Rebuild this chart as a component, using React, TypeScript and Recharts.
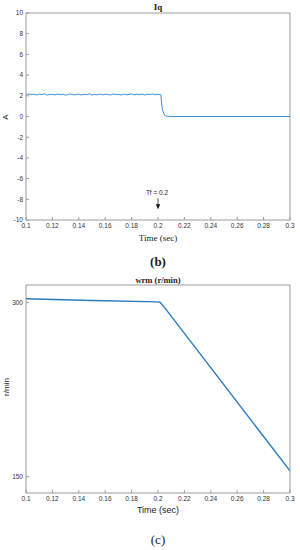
import { LineChart, Line, XAxis, YAxis, ReferenceDot } from 'recharts';

const timeTicks = [0.1, 0.12, 0.14, 0.16, 0.18, 0.2, 0.22, 0.24, 0.26, 0.28, 0.3];
const iqTicks = [-10, -8, -6, -4, -2, 0, 2, 4, 6, 8, 10];
const wrmTicks = [150, 300];

const iqTime = [
  0.1, 0.102, 0.104, 0.106, 0.108, 0.11, 0.112, 0.114, 0.116, 0.118,
  0.12, 0.122, 0.124, 0.126, 0.128, 0.13, 0.132, 0.134, 0.136, 0.138,
  0.14, 0.142, 0.144, 0.146, 0.148, 0.15, 0.152, 0.154, 0.156, 0.158,
  0.16, 0.162, 0.164, 0.166, 0.168, 0.17, 0.172, 0.174, 0.176, 0.178,
  0.18, 0.182, 0.184, 0.186, 0.188, 0.19, 0.192, 0.194, 0.196, 0.198,
  0.2, 0.2022, 0.2028, 0.2035, 0.2045, 0.2055, 0.207, 0.21, 0.3,
];
const iqValue = [
  2.12, 2.18, 2.1, 2.15, 2.08, 2.16, 2.11, 2.19, 2.07, 2.14,
  2.12, 2.09, 2.17, 2.1, 2.15, 2.06, 2.13, 2.18, 2.09, 2.12,
  2.16, 2.08, 2.14, 2.11, 2.19, 2.07, 2.13, 2.1, 2.17, 2.09,
  2.15, 2.12, 2.08, 2.18, 2.11, 2.14, 2.07, 2.16, 2.1, 2.13,
  2.19, 2.09, 2.15, 2.11, 2.17, 2.08, 2.14, 2.12, 2.18, 2.1,
  2.15, 2.1, 1.2, 0.6, 0.25, 0.08, 0.02, 0, 0,
];

const wrmTime = [0.1, 0.15, 0.2, 0.2015, 0.205, 0.25, 0.3];
const wrmValue = [303.2, 301.6, 300.5, 300.2, 295.5, 229, 155];

const iqData = iqTime.map((t, i) => ({ t, v: iqValue[i] }));
const wrmData = wrmTime.map((t, i) => ({ t, v: wrmValue[i] }));

const axisGrey = '#9a9a9a';
const tickFont = { fontSize: 6.5, fill: '#333', fontFamily: 'Liberation Sans, Arial, sans-serif' };

const TfArrow = (props: any) => {
  const { cx, cy } = props;
  return (
    <g>
      <text x={cx - 1} y={cy} textAnchor="middle" fontSize={6.5} fill="#222" fontFamily="Liberation Sans, Arial, sans-serif">
        Tf = 0.2
      </text>
      <line x1={cx} y1={cy + 3} x2={cx} y2={cy + 11} stroke="#222" strokeWidth={0.8} />
      <path d={`M${cx - 2.2},${cy + 9} L${cx + 2.2},${cy + 9} L${cx},${cy + 14} Z`} fill="#111" />
    </g>
  );
};

function Box({ yDomain, yTicks }: { yDomain: number[]; yTicks: number[] }) {
  return [
    <XAxis
      key="xb"
      dataKey="t"
      type="number"
      domain={[0.1, 0.3]}
      ticks={timeTicks}
      height={1}
      tickSize={-3}
      tickMargin={6}
      tick={tickFont}
      stroke={axisGrey}
      interval={0}
      allowDataOverflow
    />,
    <XAxis
      key="xt"
      xAxisId="top"
      orientation="top"
      dataKey="t"
      type="number"
      domain={[0.1, 0.3]}
      ticks={timeTicks}
      height={1}
      tickSize={-3}
      tick={false}
      stroke={axisGrey}
      interval={0}
      allowDataOverflow
    />,
    <YAxis
      key="yl"
      type="number"
      domain={yDomain}
      ticks={yTicks}
      width={1}
      tickSize={-3}
      tickMargin={6}
      tick={tickFont}
      stroke={axisGrey}
      interval={0}
      allowDataOverflow
    />,
    <YAxis
      key="yr"
      yAxisId="right"
      orientation="right"
      type="number"
      domain={yDomain}
      ticks={yTicks}
      width={1}
      tickSize={-3}
      tick={false}
      stroke={axisGrey}
      interval={0}
      allowDataOverflow
    />,
  ];
}

const label = (x: number, y: number, extra: any = {}) => ({
  position: 'absolute' as const,
  left: x,
  top: y,
  transform: 'translate(-50%, -50%)' + (extra.rotate ? ' rotate(-90deg)' : ''),
  whiteSpace: 'nowrap' as const,
  lineHeight: 1,
  color: '#222',
  ...extra.style,
});

export default function App() {
  return (
    <div style={{ position: 'absolute', left: 0, top: 0, width: 300, height: 550, background: '#fff', overflow: 'hidden' }}>
      <div style={{ position: 'absolute', left: 0, top: 0 }}>
        <LineChart width={300} height={250} data={iqData} margin={{ top: 12, right: 9, bottom: 29, left: 25 }}>
          {Box({ yDomain: [-10, 10], yTicks: iqTicks })}
          <Line
            data={iqData}
            dataKey="v"
            type="linear"
            stroke="#3b8ed8"
            strokeWidth={1}
            dot={false}
            isAnimationActive={false}
          />
          <ReferenceDot x={0.2} y={-7.6} r={0} shape={TfArrow} />
        </LineChart>
      </div>
      <div style={label(158, 7, { style: { fontFamily: 'Liberation Serif, Times, serif', fontWeight: 'bold', fontSize: 9 } })}>Iq</div>
      <div style={label(6, 117, { rotate: true, style: { fontFamily: 'Liberation Sans, Arial, sans-serif', fontSize: 8 } })}>A</div>
      <div style={label(158, 238, { style: { fontFamily: 'Liberation Serif, Times, serif', fontSize: 9 } })}>Time (sec)</div>
      <div style={label(158, 261, { style: { fontFamily: 'Liberation Serif, Times, serif', fontWeight: 'bold', fontSize: 13 } })}>(b)</div>

      <div style={{ position: 'absolute', left: 0, top: 270 }}>
        <LineChart width={300} height={250} data={wrmData} margin={{ top: 14, right: 9, bottom: 26, left: 25 }}>
          {Box({ yDomain: [136, 315], yTicks: wrmTicks })}
          <Line
            data={wrmData}
            dataKey="v"
            type="linear"
            stroke="#2b7bbd"
            strokeWidth={1.4}
            dot={false}
            isAnimationActive={false}
          />
        </LineChart>
      </div>
      <div style={label(158, 280, { style: { fontFamily: 'Liberation Serif, Times, serif', fontWeight: 'bold', fontSize: 8.5 } })}>wrm (r/min)</div>
      <div style={label(7, 387, { rotate: true, style: { fontFamily: 'Liberation Sans, Arial, sans-serif', fontSize: 8 } })}>r/min</div>
      <div style={label(158, 510, { style: { fontFamily: 'Liberation Sans, Arial, sans-serif', fontSize: 9 } })}>Time (sec)</div>
      <div style={label(158, 539, { style: { fontFamily: 'Liberation Serif, Times, serif', fontSize: 13 } })}>(c)</div>
    </div>
  );
}
